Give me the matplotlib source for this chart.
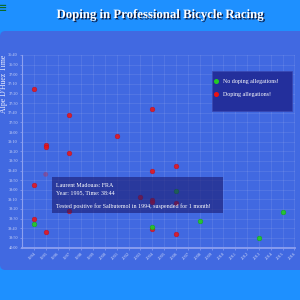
import matplotlib
matplotlib.use('Agg')
import matplotlib.pyplot as plt
import matplotlib.patheffects as pe
from matplotlib.patches import FancyBboxPatch, Rectangle
from matplotlib.lines import Line2D

# riders who were accused of doping
years_doping = [1994, 1994, 1994, 1995, 1995, 1995, 1997, 1997, 1997, 2001,
                2003, 2004, 2004, 2004, 2004, 2004, 2006, 2006, 2006]
times_doping = ["37:15", "38:55", "39:30", "38:13", "38:16", "39:44", "37:42",
                "38:22", "39:22", "38:04", "39:08", "37:36", "38:40", "39:11",
                "39:13", "39:41", "38:35", "39:14", "39:46"]

# riders with no allegations
years_clean = [1994, 2004, 2006, 2008, 2013, 2015]
times_clean = ["39:36", "39:39", "39:01", "39:32", "39:50", "39:23"]

# the hovered rider (tooltip)
hover_name = "Laurent Madouas"
hover_nat = "FRA"
hover_year = 1995
hover_time = "38:44"
hover_note = "Tested positive for Salbutemol in 1994, suspended for 1 month!"

year_ticks = list(range(1994, 2017))


def secs(t):
    m, s = t.split(':')
    return int(m) * 60 + int(s)


def mmss(v):
    return '%d:%02d' % (v // 60, v % 60)


serif = 'Liberation Serif'
W = 300.0

fig = plt.figure(figsize=(3, 3), dpi=100)
fig.patch.set_facecolor('#1E90FF')

# panel behind everything
panel = FancyBboxPatch((0, 30 / W), 1.1, 239 / W, boxstyle='round,pad=0,rounding_size=0.018',
                       transform=fig.transFigure, facecolor='#4169E1', edgecolor='none', zorder=-5)
fig.patches.append(panel)

ax = fig.add_axes([22 / W, 52.5 / W, 273 / W, 192.5 / W])
ax.set_facecolor('none')

ax.scatter(years_doping, [secs(t) for t in times_doping], s=12, color='#ee1111',
           alpha=0.85, edgecolors='#b01020', linewidths=0.3, zorder=3)
ax.scatter(years_clean, [secs(t) for t in times_clean], s=12, color='#22cc22',
           alpha=0.9, edgecolors='#119911', linewidths=0.3, zorder=3)
ax.scatter([hover_year], [secs(hover_time)], s=12, color='#ee1111', alpha=0.3,
           edgecolors='none', zorder=3)

ax.set_xlim(1993, 2016.05)
ax.set_ylim(2400, 2200)
yt = list(range(2200, 2401, 10))
ax.set_yticks(yt)
ax.set_yticklabels([mmss(v) for v in yt], fontsize=3.1, family=serif, color='#d0d8f8')
ax.set_xticks(year_ticks)
ax.set_xticklabels([str(y) for y in year_ticks], fontsize=3.3, family=serif, color='#d0d8f8',
                   rotation=45, ha='right', va='top', rotation_mode='anchor')
ax.tick_params(axis='both', length=1.5, width=0.5, color='#8da0f0', pad=1.5)
ax.grid(True, color='white', alpha=0.12, linewidth=0.5)
ax.set_axisbelow(True)
for side in ['top', 'right']:
    ax.spines[side].set_visible(False)
ax.spines['left'].set_color('#8da0f0')
ax.spines['left'].set_linewidth(0.8)
ax.spines['bottom'].set_color('#8da0f0')
ax.spines['bottom'].set_linewidth(1.3)

# titles
fig.text(159.5 / W, 1 - 15 / W, 'Doping in Professional Bicycle Racing', ha='center', va='center',
         fontsize=9.2, weight='bold', family=serif, color='white',
         path_effects=[pe.withSimplePatchShadow(offset=(1, -1), shadow_rgbFace='#0a1030', alpha=0.9)])
fig.text(4.5 / W, 1 - 55 / W, "Alpe D'Huez Time", rotation=90, ha='center', va='top',
         fontsize=5.6, family=serif, color='#eef0ff')

# legend
fig.patches.append(Rectangle((212 / W, 1 - 110.7 / W), 80 / W, 40 / W, transform=fig.transFigure,
                             facecolor='#232f9c', edgecolor='#3a48b0', linewidth=0.5, zorder=5))
handles = [Line2D([], [], marker='o', ls='none', markersize=2.6, color='#22cc22'),
           Line2D([], [], marker='o', ls='none', markersize=2.6, color='#ee1111')]
leg = fig.legend(handles, ['No doping allegations!', 'Doping allegations!'], loc='upper left',
                 bbox_to_anchor=(214 / W, 1 - 79 / W), bbox_transform=fig.transFigure,
                 frameon=False, prop={'family': serif, 'size': 4.3}, labelcolor='white',
                 handlelength=0.6, handletextpad=0.9, labelspacing=1.35, borderpad=0,
                 borderaxespad=0)
leg.set_zorder(6)

# tooltip
fig.patches.append(Rectangle((51.7 / W, 1 - 213.3 / W), 171.3 / W, 36 / W, transform=fig.transFigure,
                             facecolor='#191970', alpha=0.6, edgecolor='none', zorder=5))
fig.text(56 / W, 1 - 185.3 / W, '%s: %s' % (hover_name, hover_nat), ha='left', va='center',
         fontsize=4.3, family=serif, color='white', zorder=6)
fig.text(56 / W, 1 - 192.8 / W, 'Year: %d, Time: %s' % (hover_year, hover_time), ha='left', va='center',
         fontsize=4.3, family=serif, color='white', zorder=6)
fig.text(56 / W, 1 - 206 / W, hover_note, ha='left', va='center',
         fontsize=4.3, family=serif, color='white', zorder=6)

# small icon at top left
fig.text(-0.004, 1 - 8 / W, '≡', ha='left', va='center', fontsize=7, color='#0b6b2b', weight='bold')

fig.savefig('out.png', dpi=100, facecolor=fig.get_facecolor())
